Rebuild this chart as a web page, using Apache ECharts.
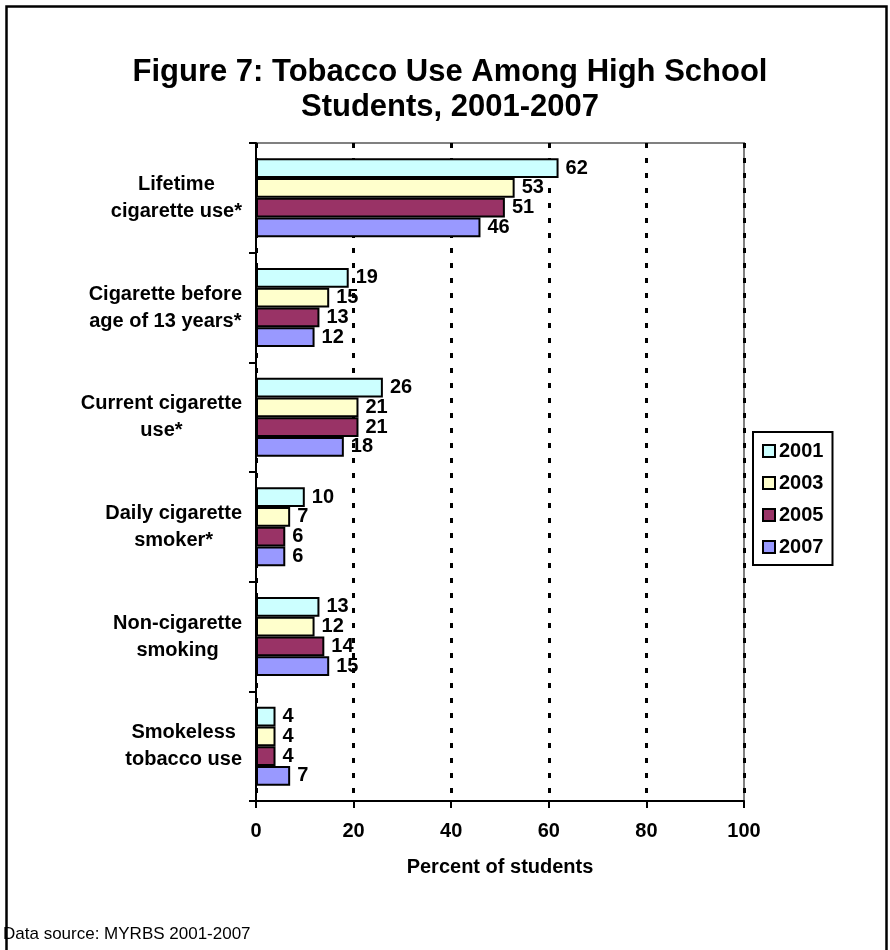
<!DOCTYPE html>
<html>
<head>
<meta charset="utf-8">
<script src="https://cdn.jsdelivr.net/npm/echarts@6/dist/echarts.min.js"></script>
<style>
  html, body { margin: 0; padding: 0; background: #fff; }
  #chart { width: 890px; height: 950px; }
</style>
</head>
<body>
<div id="chart"></div>
<script>
// Categories (top to bottom) and yearly survey percentages
const categories = [
  'Lifetime\ncigarette use*',
  'Cigarette before\nage of 13 years*',
  'Current cigarette\nuse*',
  'Daily cigarette\nsmoker*',
  'Non-cigarette\nsmoking',
  'Smokeless\ntobacco use'
];
const years = ['2001', '2003', '2005', '2007'];
const values2001 = [62, 19, 26, 10, 13, 4];
const values2003 = [53, 15, 21, 7, 12, 4];
const values2005 = [51, 13, 21, 6, 14, 4];
const values2007 = [46, 12, 18, 6, 15, 7];
const xTicks = [0, 20, 40, 60, 80, 100];

const seriesValues = [values2001, values2003, values2005, values2007];
const colors = ['#CCFFFF', '#FFFFCC', '#993366', '#9999FF'];
const FONT = '"Liberation Sans", Arial, Helvetica, sans-serif';
const FS = 20;

const chart = echarts.init(document.getElementById('chart'), null, { renderer: 'canvas' });

const option = {
  backgroundColor: '#fff',
  animation: false,
  textStyle: { fontFamily: FONT },
  title: [
    {
      text: 'Figure 7: Tobacco Use Among High School\nStudents, 2001-2007',
      left: 450,
      top: 55,
      padding: 0,
      textAlign: 'center',
      textStyle: { fontFamily: FONT, fontWeight: 'bold', fontSize: 31, lineHeight: 35, color: '#000' }
    },
    {
      text: 'Data source: MYRBS 2001-2007',
      left: 3,
      top: 926,
      padding: 0,
      textStyle: { fontFamily: FONT, fontWeight: 'normal', fontSize: 17, color: '#000' }
    }
  ],
  legend: {
    data: years,
    orient: 'vertical',
    left: 753,
    top: 432,
    padding: [9, 9, 8, 9],
    itemGap: 12,
    itemWidth: 12,
    itemHeight: 12,
    icon: 'rect',
    borderColor: '#000',
    borderWidth: 2,
    backgroundColor: '#fff',
    itemStyle: { borderColor: '#000', borderWidth: 2 },
    textStyle: { fontFamily: FONT, fontWeight: 'bold', fontSize: FS, color: '#000', padding: [0, 0, 0, -1] }
  },
  grid: {
    left: 256,
    top: 143,
    width: 488,
    height: 658,
    show: true,
    borderColor: '#808080',
    borderWidth: 2,
    backgroundColor: 'transparent'
  },
  xAxis: {
    type: 'value',
    min: xTicks[0],
    max: xTicks[xTicks.length - 1],
    interval: xTicks[1] - xTicks[0],
    name: 'Percent of students',
    nameLocation: 'middle',
    nameGap: 56,
    nameTextStyle: { fontFamily: FONT, fontWeight: 'bold', fontSize: FS, color: '#000' },
    axisLine: { show: true, lineStyle: { color: '#000', width: 2 } },
    axisTick: { show: true, length: 7, lineStyle: { color: '#000', width: 2 } },
    axisLabel: { margin: 20, fontFamily: FONT, fontWeight: 'bold', fontSize: FS, color: '#000' },
    splitLine: { show: true, lineStyle: { color: '#000', width: 3, type: [5, 10] } }
  },
  yAxis: {
    type: 'category',
    data: categories,
    inverse: true,
    axisLine: { show: true, lineStyle: { color: '#000', width: 2 } },
    axisTick: { show: true, length: 7, lineStyle: { color: '#000', width: 2 } },
    axisLabel: {
      margin: 14,
      align: 'right',
      formatter: function (value) {
        return value.split('\n').map(function (l) { return '{c|' + l + '}'; }).join('\n');
      },
      rich: {
        c: { align: 'center', fontFamily: FONT, fontWeight: 'bold', fontSize: FS, lineHeight: 27, color: '#000' }
      }
    },
    splitLine: { show: false }
  },
  series: years.map(function (y, i) {
    return {
      name: y,
      type: 'bar',
      data: seriesValues[i],
      barGap: '0%',
      barCategoryGap: '28%',
      itemStyle: { color: colors[i], borderColor: '#000', borderWidth: 2 },
      label: {
        show: true,
        position: 'right',
        distance: 7,
        fontFamily: FONT,
        fontWeight: 'bold',
        fontSize: FS,
        color: '#000'
      }
    };
  }),
  graphic: [
    {
      type: 'rect',
      left: 4,
      top: 4,
      shape: { width: 880, height: 970 },
      style: { fill: 'none', stroke: '#000', lineWidth: 2.5 },
      silent: true,
      z: -1
    }
  ]
};

chart.setOption(option);
</script>
</body>
</html>
